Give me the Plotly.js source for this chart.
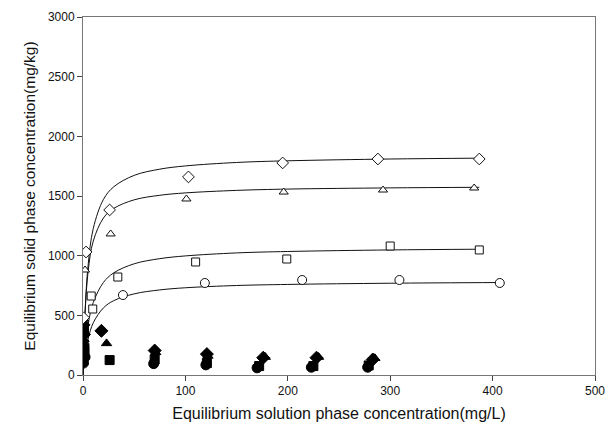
<!DOCTYPE html>
<html>
<head>
<meta charset="utf-8">
<script src="https://cdn.plot.ly/plotly-3.0.1.min.js"></script>
<style>html,body{margin:0;padding:0;background:#fff}#chart{width:612px;height:437px}</style>
</head>
<body>
<div id="chart"></div>
<script>
// Open-marker observations
const diamondX = [0.5, 3, 26, 103, 195, 288, 387];
const diamondY = [480, 1031, 1383, 1660, 1777, 1810, 1810];
const triangleX = [2, 27, 101, 196, 293, 382];
const triangleY = [880, 1182, 1475, 1533, 1550, 1567];
const squareX = [8, 9.5, 34, 110, 199, 300, 387];
const squareY = [662, 553, 821, 947, 972, 1081, 1048];
const circleX = [39, 119, 214, 309, 407];
const circleY = [670, 771, 796, 796, 771];

// Fitted curves
const curveX = [0, 2, 5, 10, 20, 30, 50, 75, 100, 150, 200, 300, 387];
const curveDiamond = [0, 526, 920, 1227, 1472, 1577, 1673, 1725, 1752, 1781, 1795, 1810, 1817];
const curveTriangle = [0, 516, 867, 1122, 1316, 1396, 1468, 1506, 1526, 1547, 1558, 1568, 1573];
const curveSquare = [0, 222, 423, 607, 776, 856, 932, 975, 998, 1023, 1035, 1048, 1054];
const curveCircleX = [0, 2, 5, 10, 20, 30, 50, 75, 100, 150, 200, 300, 408];
const curveCircle = [0, 157, 302, 437, 563, 623, 680, 713, 731, 750, 759, 769, 775];

// Filled-marker observations
const fDiamondX = [0.5, 1, 18, 70, 121, 176, 228, 283];
const fDiamondY = [420, 340, 370, 205, 175, 145, 145, 130];
const fTriangleX = [1, 0.5, 23, 71, 122, 178, 230, 285];
const fTriangleY = [300, 470, 265, 190, 160, 150, 150, 140];
const fSquareX = [1.5, 1, 26, 70, 121, 172, 225, 279];
const fSquareY = [200, 380, 125, 130, 100, 75, 75, 80];
const fCircleX = [0.5, 2, 1, 69, 120, 170, 223, 278];
const fCircleY = [100, 150, 250, 95, 85, 60, 65, 65];

const xTicks = [0, 100, 200, 300, 400, 500];
const yTicks = [0, 500, 1000, 1500, 2000, 2500, 3000];

const lineStyle = {color: '#111', width: 1, shape: 'spline', smoothing: 1};
const curve = (x, y) => ({x: x, y: y, mode: 'lines', line: lineStyle, hoverinfo: 'skip', showlegend: false});
const openM = (x, y, sym, size) => ({x: x, y: y, mode: 'markers', showlegend: false,
  marker: {symbol: sym, size: size, color: '#fff', line: {color: '#111', width: 1}}});
const fillM = (x, y, sym, size) => ({x: x, y: y, mode: 'markers', showlegend: false,
  marker: {symbol: sym, size: size, color: '#000', line: {color: '#000', width: 1}}});

const data = [
  curve(curveX, curveDiamond),
  curve(curveX, curveTriangle),
  curve(curveX, curveSquare),
  curve(curveCircleX, curveCircle),
  fillM(fCircleX, fCircleY, 'circle', 10),
  fillM(fSquareX, fSquareY, 'square', 9),
  fillM(fTriangleX, fTriangleY, 'triangle-up', 9),
  fillM(fDiamondX, fDiamondY, 'diamond', 10),
  openM(diamondX, diamondY, 'diamond', 9),
  openM(triangleX, triangleY, 'triangle-up', 8),
  openM(squareX, squareY, 'square', 8),
  openM(circleX, circleY, 'circle', 9)
];

const fontFam = 'Liberation Sans, Arial, sans-serif';
const layout = {
  width: 612, height: 437,
  margin: {l: 83, r: 17, t: 17, b: 62},
  paper_bgcolor: '#fff', plot_bgcolor: '#fff',
  font: {family: fontFam, color: '#111', size: 12},
  showlegend: false,
  xaxis: {
    range: [0, 500], tickvals: xTicks, ticktext: xTicks.map(String),
    showgrid: false, zeroline: false, showline: true, mirror: true,
    linecolor: '#777', linewidth: 1, ticks: 'outside', ticklen: 5, tickcolor: '#444',
    tickfont: {size: 12, family: fontFam},
    title: {text: 'Equilibrium solution phase concentration(mg/L)', font: {size: 16, family: fontFam}, standoff: 10}
  },
  yaxis: {
    range: [0, 3000], tickvals: yTicks, ticktext: yTicks.map(String),
    showgrid: false, zeroline: false, showline: true, mirror: true,
    linecolor: '#777', linewidth: 1, ticks: 'outside', ticklen: 5, tickcolor: '#444',
    tickfont: {size: 12, family: fontFam},
    title: {text: 'Equilibrium solid phase concentration(mg/kg)', font: {size: 15.5, family: fontFam}, standoff: 8}
  }
};

Plotly.newPlot('chart', data, layout, {displayModeBar: false, staticPlot: true});
</script>
</body>
</html>
